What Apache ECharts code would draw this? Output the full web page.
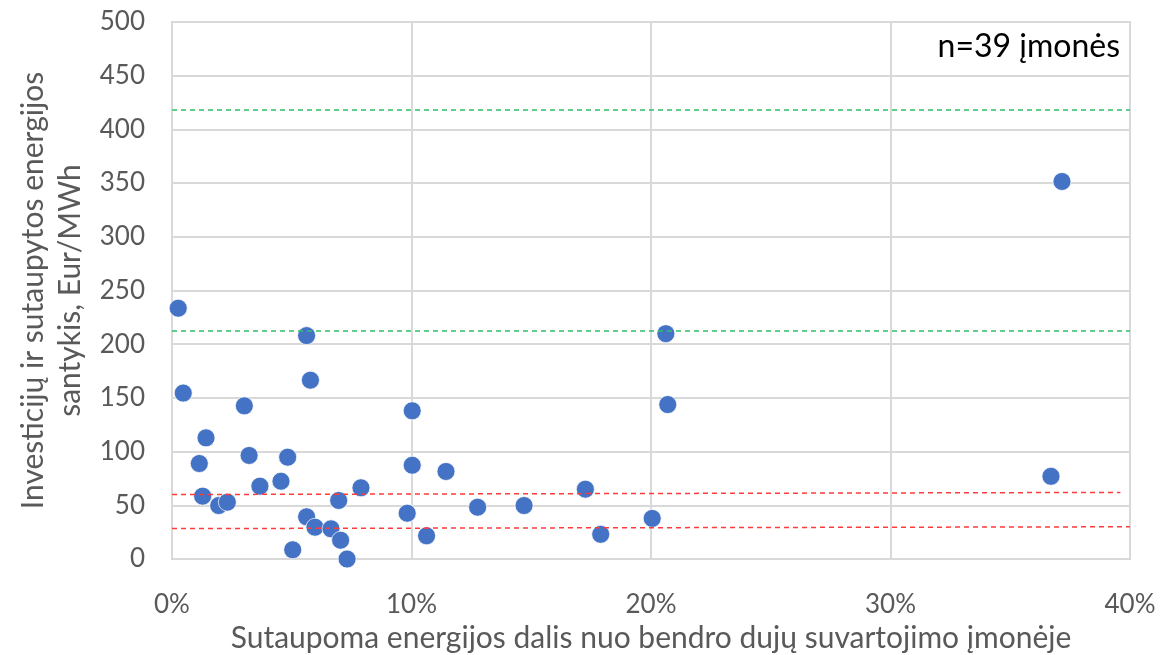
<!DOCTYPE html>
<html>
<head>
<meta charset="utf-8">
<script src="https://cdn.jsdelivr.net/npm/echarts@6/dist/echarts.min.js"></script>
<style>
  html, body { margin: 0; padding: 0; background: #fff; }
  #chart { width: 1162px; height: 655px; }
</style>
</head>
<body>
<div id="chart"></div>
<script>
// Sutaupoma energijos dalis (%), investicijų / sutaupytos energijos santykis (Eur/MWh)
const savingsPct = [
  0.26, 0.47, 1.42, 1.14, 1.28, 1.95, 2.31, 3.02, 3.22, 3.67,
  4.55, 4.83, 5.04, 5.62, 5.78, 5.62, 5.97, 6.64, 7.04, 6.96,
  7.31, 7.89, 10.03, 10.03, 9.82, 10.63, 11.44, 12.76, 14.7, 17.26,
  17.9, 20.05, 20.7, 20.62, 37.16, 36.7
];
const ratioValues = [
  233.5, 154.5, 112.8, 88.9, 58.5, 49.8, 52.9, 142.6, 96.4, 67.8,
  72.4, 94.8, 8.6, 208, 166.5, 39.3, 29.6, 28.1, 17.5, 54.5,
  0, 66.3, 138, 87.3, 42.6, 21.6, 81.5, 48.2, 49.8, 65,
  23, 37.8, 143.8, 209.8, 351.5, 77
];
const xTicks = [0, 10, 20, 30, 40];
const greenLevels = [418.5, 212.2];
const redLevels = [[60, 62], [28.3, 30]];

const points = savingsPct.map((x, i) => [x, ratioValues[i]]);

const chart = echarts.init(document.getElementById("chart"));

const font = "Lato, 'Open Sans', sans-serif";

const markLines = [];
greenLevels.forEach(v => {
  markLines.push([
    { coord: [0, v], lineStyle: { color: "#2fbf6a", type: [5, 4], width: 1.5 } },
    { coord: [40, v] }
  ]);
});
redLevels.forEach(([a, b], i) => {
  markLines.push([
    { coord: [0, a], lineStyle: { color: "#ff3b3b", type: [5, 4], width: 1.5 } },
    { coord: [i === 0 ? 39.6 : 40, b] }
  ]);
});

const option = {
  animation: false,
  grid: {
    left: 172,
    right: 32,
    top: 22,
    bottom: 96,
    outerBoundsMode: "none",
    containLabel: false,
    show: true,
    borderColor: "#d0d0d0",
    borderWidth: 2
  },
  xAxis: {
    type: "value",
    min: xTicks[0],
    max: xTicks[xTicks.length - 1],
    interval: 10,
    axisLine: { show: false },
    axisTick: { show: false },
    splitLine: { lineStyle: { color: "#d9d9d9", width: 2 } },
    axisLabel: {
      formatter: "{value}%",
      color: "#595959",
      fontFamily: font,
      fontSize: 26,
      margin: 33
    },
    name: "Sutaupoma energijos dalis nuo bendro dujų suvartojimo įmonėje",
    nameLocation: "middle",
    nameGap: 60,
    nameTextStyle: { color: "#595959", fontFamily: font, fontSize: 30 }
  },
  yAxis: {
    type: "value",
    min: 0,
    max: 500,
    interval: 50,
    axisLine: { show: false },
    axisTick: { show: false },
    splitLine: { lineStyle: { color: "#d9d9d9", width: 2 } },
    axisLabel: {
      color: "#595959",
      fontFamily: font,
      fontSize: 26,
      margin: 27
    },
    name: "Investicijų ir sutaupytos energijos\nsantykis, Eur/MWh",
    nameLocation: "middle",
    nameGap: 80,
    nameRotate: 90,
    nameTextStyle: { color: "#595959", fontFamily: font, fontSize: 30, lineHeight: 37 }
  },
  graphic: [{
    type: "text",
    right: 42,
    top: 31,
    style: {
      text: "n=39 įmonės",
      fill: "#000",
      fontFamily: font,
      fontSize: 32
    }
  }],
  series: [{
    type: "scatter",
    data: points,
    symbolSize: 18,
    clip: false,
    itemStyle: {
      color: "#4472c4",
      borderColor: "rgba(255,255,255,0.7)",
      borderWidth: 1,
      opacity: 1
    },
    markLine: {
      silent: true,
      symbol: "none",
      label: { show: false },
      data: markLines
    }
  }]
};

chart.setOption(option);
</script>
</body>
</html>
